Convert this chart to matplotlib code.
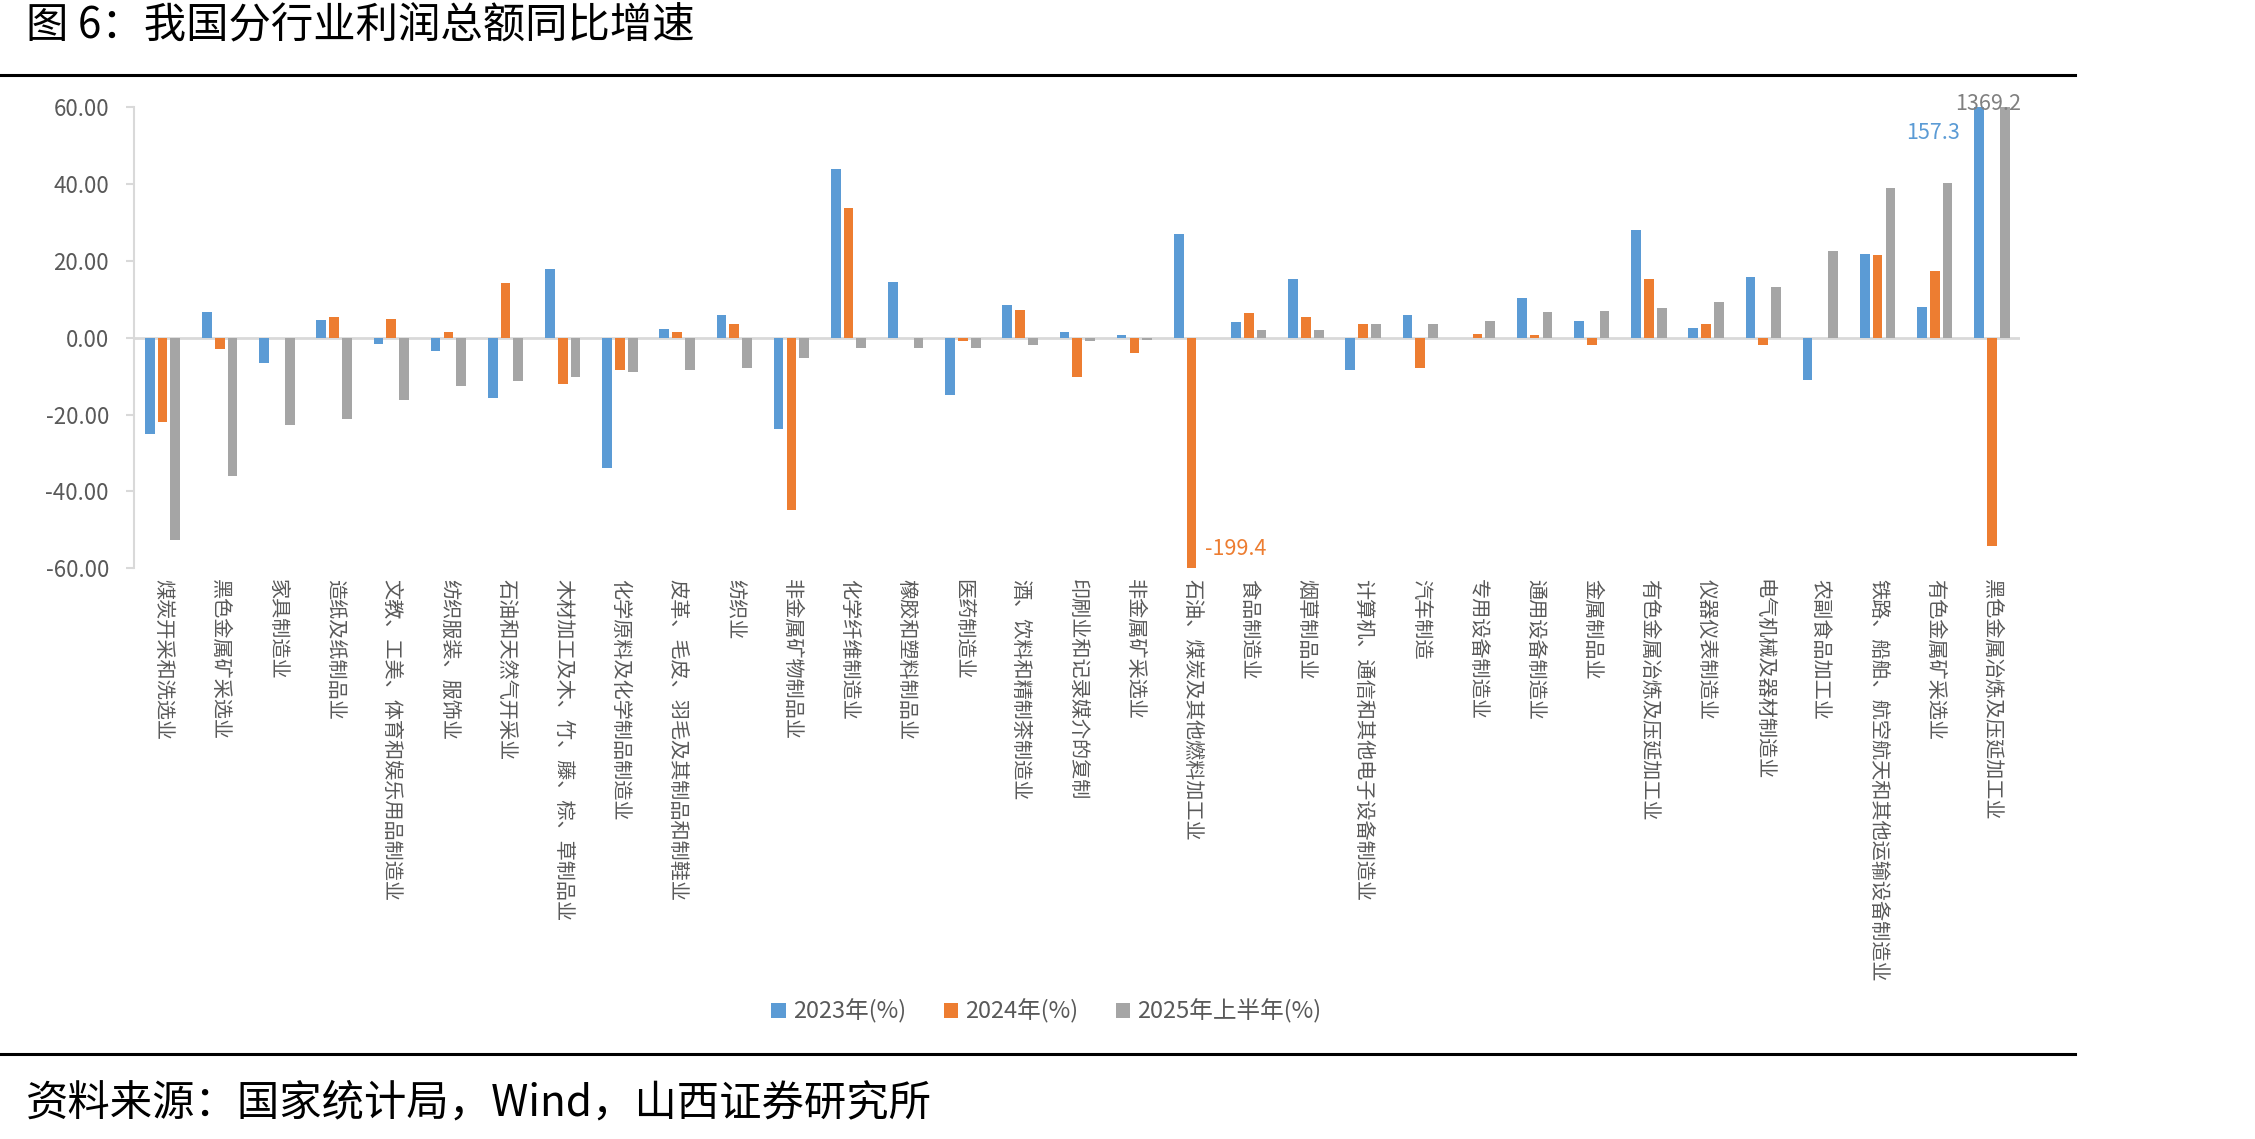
import numpy as np
import matplotlib.pyplot as plt
from matplotlib.lines import Line2D

plt.rcParams['font.family'] = ['Noto Sans CJK SC', 'DejaVu Sans']

# 行业名称
industries = ['煤炭开采和洗选业', '黑色金属矿采选业', '家具制造业', '造纸及纸制品业',
              '文教、工美、体育和娱乐用品制造业', '纺织服装、服饰业', '石油和天然气开采业',
              '木材加工及木、竹、藤、棕、草制品业', '化学原料及化学制品制造业',
              '皮革、毛皮、羽毛及其制品和制鞋业', '纺织业', '非金属矿物制品业', '化学纤维制造业',
              '橡胶和塑料制品业', '医药制造业', '酒、饮料和精制茶制造业', '印刷业和记录媒介的复制',
              '非金属矿采选业', '石油、煤炭及其他燃料加工业', '食品制造业', '烟草制品业',
              '计算机、通信和其他电子设备制造业', '汽车制造', '专用设备制造业', '通用设备制造业',
              '金属制品业', '有色金属冶炼及压延加工业', '仪器仪表制造业', '电气机械及器材制造业',
              '农副食品加工业', '铁路、船舶、航空航天和其他运输设备制造业', '有色金属矿采选业',
              '黑色金属冶炼及压延加工业']

y2023 = [-25.0, 6.7, -6.5, 4.5, -1.7, -3.5, -15.8, 18.0, -33.8, 2.3, 5.9, -23.7, 43.8,
         14.6, -14.9, 8.6, 1.6, 0.8, 26.9, 4.2, 15.4, -8.5, 5.8, 0.0, 10.3, 4.4, 28.0,
         2.4, 15.7, -11.0, 21.9, 8.1, 157.3]
y2024 = [-21.9, -2.9, 0.0, 5.3, 4.8, 1.6, 14.3, -12.1, -8.5, 1.6, 3.6, -44.9, 33.7,
         0.0, -0.9, 7.2, -10.2, -4.1, -199.4, 6.3, 5.3, 3.6, -7.9, 1.0, 0.8, -2.0, 15.2,
         3.6, -2.0, 0.0, 21.6, 17.4, -54.2]
y2025h1 = [-52.7, -36.0, -22.8, -21.2, -16.1, -12.6, -11.3, -10.2, -8.8, -8.5, -7.9, -5.4,
           -2.6, -2.6, -2.6, -2.0, -0.9, -0.6, 0.0, 1.9, 1.9, 3.6, 3.6, 4.4, 6.7, 7.0, 7.8,
           9.2, 13.1, 22.6, 39.0, 40.2, 1369.2]

series_names = ['2023年(%)', '2024年(%)', '2025年上半年(%)']
colors = ['#5B9BD5', '#ED7D31', '#A5A5A5']

fig = plt.figure(figsize=(22.55, 11.39), dpi=100)
ax = fig.add_axes([0.0594, 0.501, 0.8366, 0.405])

x = np.arange(len(industries))
slot = 0.224
width = 0.17
for i, (vals, name, c) in enumerate(zip([y2023, y2024, y2025h1], series_names, colors)):
    ax.bar(x + (i - 1) * slot, vals, width=width, color=c, label=name, zorder=3)

ax.set_xlim(-0.5, len(industries) - 0.5)
ax.set_ylim(-60, 60)
ax.axhline(0, color='#D9D9D9', lw=2, zorder=2)

ax.set_yticks(np.arange(-60, 61, 20))
ax.set_yticklabels([f'{v:.2f}' for v in np.arange(-60, 61, 20)], color='#595959', fontsize=16)
ax.tick_params(axis='y', length=6, color='#D9D9D9', width=1.5, pad=12)

ax.set_xticks(x)
ax.set_xticklabels(industries, rotation=-90, va='top', ha='center', fontsize=14.5, color='#595959')
ax.tick_params(axis='x', length=0, pad=8)

for s in ['top', 'right', 'bottom']:
    ax.spines[s].set_visible(False)
ax.spines['left'].set_color('#D9D9D9')
ax.spines['left'].set_linewidth(1.5)

# 超出坐标范围的数据标签
ax.annotate(f'{y2023[-1]:.1f}', (x[-1] - slot, 60), xytext=(-14, -19), textcoords='offset points',
            ha='right', va='center', color='#5B9BD5', fontsize=15.5)
ax.annotate(f'{y2025h1[-1]:.1f}', (x[-1], 60), xytext=(-3, 2), textcoords='offset points',
            ha='center', va='center', color='#808080', fontsize=15.5)
ax.annotate(f'{y2024[18]:.1f}', (x[18], -60), xytext=(10, 14), textcoords='offset points',
            ha='left', va='center', color='#ED7D31', fontsize=15.5)

fig.legend(loc='center', bbox_to_anchor=(0.464, 0.112), ncol=3, frameon=False,
           fontsize=17, handlelength=0.6, handleheight=0.6, handletextpad=0.3,
           columnspacing=1.6, labelcolor='#595959')

fig.text(0.0115, 0.977, '图 6：我国分行业利润总额同比增速', fontsize=30.5, va='center', ha='left')
fig.text(0.0115, 0.031, '资料来源：国家统计局，Wind，山西证券研究所', fontsize=30.5, va='center', ha='left')
fig.add_artist(Line2D([0, 0.92], [0.934, 0.934], transform=fig.transFigure, color='black', lw=2.2))
fig.add_artist(Line2D([0, 0.92], [0.0745, 0.0745], transform=fig.transFigure, color='black', lw=2.2))

fig.savefig('out.png', dpi=100)
